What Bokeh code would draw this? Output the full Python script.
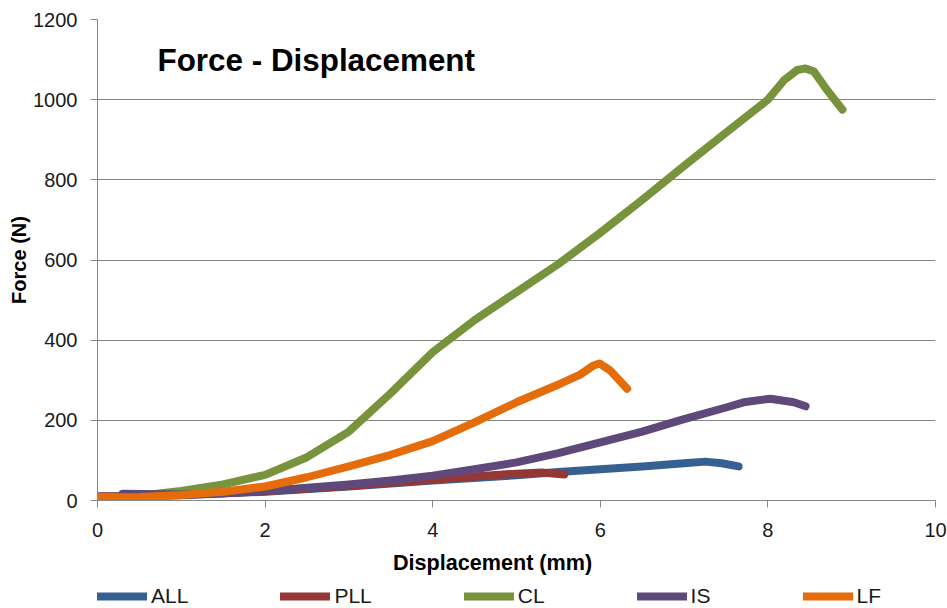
from bokeh.plotting import figure
from bokeh.layouts import column
from bokeh.models import Range1d, FixedTicker, Legend, LegendItem, Label
from bokeh.embed import file_html
from bokeh.resources import INLINE

# ---- data ----
X_TICKS = [0, 2, 4, 6, 8, 10]
Y_TICKS = [0, 200, 400, 600, 800, 1000, 1200]

all_x = [0, 1, 2, 3, 4, 5, 5.5, 6, 6.5, 7, 7.25, 7.45, 7.65]
all_y = [10, 13, 22, 35, 50, 63, 71, 78, 85, 93, 97, 93, 85]

pll_x = [0, 1, 2, 3, 4, 4.5, 5, 5.3, 5.57]
pll_y = [10, 14, 23, 36, 52, 60, 67, 70, 65]

cl_x = [0, 0.5, 1, 1.5, 2, 2.5, 3, 3.5, 4, 4.5, 5, 5.5, 6, 6.5, 7, 7.5, 8, 8.19, 8.35, 8.45, 8.55, 8.71, 8.89]
cl_y = [8, 12, 24, 40, 64, 108, 172, 268, 370, 450, 520, 590, 668, 750, 835, 918, 1000, 1048, 1074, 1078, 1070, 1023, 975]

is_x = [0.3, 1, 1.5, 2, 2.5, 3, 3.5, 4, 4.5, 5, 5.5, 6, 6.5, 7, 7.5, 7.71, 8.03, 8.31, 8.45]
is_y = [17, 15, 18, 24, 32, 40, 50, 62, 78, 95, 118, 145, 172, 203, 232, 245, 254, 245, 235]

lf_x = [0, 0.5, 1, 1.5, 2, 2.5, 3, 3.5, 4, 4.5, 5, 5.53, 5.76, 5.92, 5.99, 6.12, 6.32]
lf_y = [8, 9, 14, 22, 35, 58, 85, 114, 148, 195, 245, 292, 314, 337, 342, 324, 279]

names = ["ALL", "PLL", "CL", "IS", "LF"]
colors = ["#376092", "#953735", "#77933C", "#5F497A", "#E46C0A"]
xs_list = [all_x, pll_x, cl_x, is_x, lf_x]
ys_list = [all_y, pll_y, cl_y, is_y, lf_y]

FONT = "Liberation Sans"

# ---- main plot ----
p = figure(frame_width=838, frame_height=481, output_backend="svg", toolbar_location=None,
           x_range=Range1d(0, 10), y_range=Range1d(0, 1200),
           min_border_left=97, min_border_right=12, min_border_top=19, min_border_bottom=50)
p.outline_line_color = None
p.background_fill_color = "white"
p.border_fill_color = "white"

for ax, ticks in ((p.xaxis, X_TICKS), (p.yaxis, Y_TICKS)):
    ax.ticker = FixedTicker(ticks=ticks)
    ax.minor_tick_line_color = None
    ax.major_tick_in = 0
    ax.major_tick_out = 7
    ax.axis_line_color = "#868686"
    ax.major_tick_line_color = "#868686"
    ax.major_label_text_font = FONT
    ax.major_label_text_font_size = "20px"
    ax.major_label_text_color = "#1a1a1a"
p.yaxis.major_label_standoff = 13
p.xaxis.major_label_standoff = 15
p.yaxis.axis_label = "Force (N)"
p.yaxis.axis_label_text_font = FONT
p.yaxis.axis_label_text_font_style = "bold"
p.yaxis.axis_label_text_color = "black"
p.yaxis.axis_label_text_font_size = "20px"
p.yaxis.axis_label_standoff = 0

p.xgrid.visible = False
p.ygrid.grid_line_color = "#868686"
p.ygrid.grid_line_width = 1

for name, xs, ys, c in zip(names, xs_list, ys_list, colors):
    p.line(xs, ys, line_color=c, line_width=8, line_cap="round", line_join="round")

p.add_layout(Label(x=0.716, y=1098, text="Force - Displacement", text_font=FONT,
                   text_font_size="31.4px", text_font_style="bold", text_color="black",
                   text_baseline="middle", text_align="left"))

# ---- strip below the plot: x-axis title and legend ----
# Its frame is aligned with the main frame by the column layout; the y range is
# far from the data so the series themselves stay clipped out of view and only
# their legend glyphs show.
STRIP_LO = -2000
STRIP_H = 58
q = figure(width=947, height=STRIP_H, output_backend="svg", toolbar_location=None,
           x_range=Range1d(0, 10), y_range=Range1d(STRIP_LO, STRIP_LO + STRIP_H),
           x_axis_location=None, y_axis_location=None,
           min_border_left=0, min_border_right=0, min_border_top=0, min_border_bottom=0)
q.outline_line_color = None
q.grid.visible = False
q.background_fill_color = "white"
q.border_fill_color = "white"

items = []
for name, xs, ys, c in zip(names, xs_list, ys_list, colors):
    r = q.line(xs, ys, line_color=c, line_width=8, line_cap="round")
    items.append(LegendItem(label=name, renderers=[r]))

legend = Legend(items=items, orientation="horizontal", location=(0, 0),
                glyph_width=50, glyph_height=20, label_standoff=4, spacing=92,
                padding=0, margin=0, border_line_color=None, background_fill_alpha=0,
                label_text_font=FONT, label_text_font_size="21px", label_text_color="#1a1a1a")
q.add_layout(legend, "center")

q.add_layout(Label(x=4.714, y=STRIP_LO + STRIP_H - 12, text="Displacement (mm)", text_font=FONT,
                   text_font_size="21.6px", text_font_style="bold", text_color="black",
                   text_baseline="middle", text_align="center"))

layout = column(p, q, spacing=0)
open("out.html", "w").write(file_html(layout, INLINE))
